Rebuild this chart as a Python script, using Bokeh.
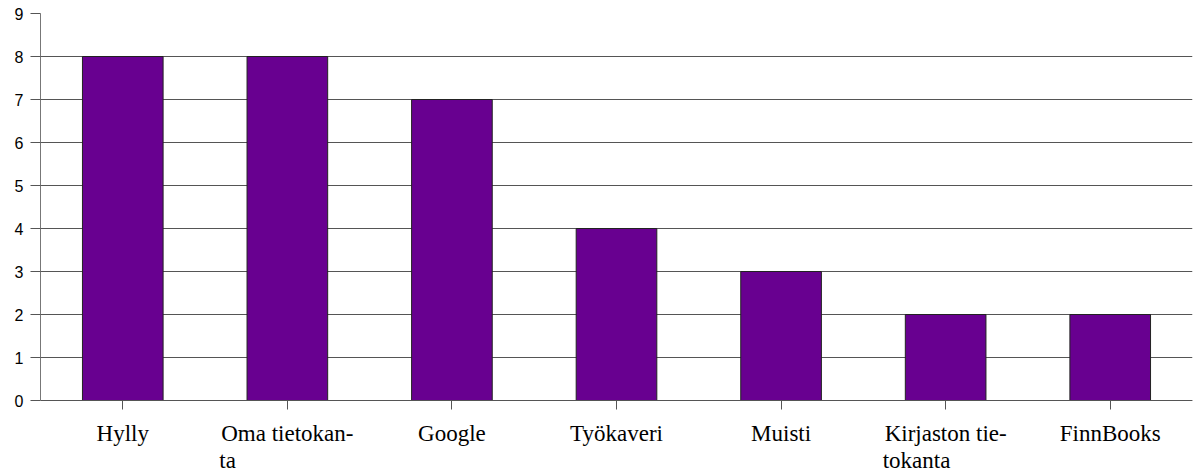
from bokeh.plotting import figure
from bokeh.models import FactorRange, Range1d, FixedTicker, ColumnDataSource, CustomJSTickFormatter
from bokeh.core.properties import value
from bokeh.embed import file_html
from bokeh.resources import INLINE

categories = ["Hylly", "Oma tietokanta", "Google", "Työkaveri", "Muisti",
              "Kirjaston tietokanta", "FinnBooks"]
label_lines = [["Hylly"], ["Oma tietokan-", "ta"], ["Google"], ["Työkaveri"], ["Muisti"],
               ["Kirjaston tie-", "tokanta"], ["FinnBooks"]]
values = [8, 8, 7, 4, 3, 2, 2]
y_ticks = [0, 1, 2, 3, 4, 5, 6, 7, 8, 9]

SERIF = "Liberation Serif"
SANS = "Liberation Sans"

PX_PER_UNIT = 43.0
FRAME_TOP = 13
FRAME_H = 471 - FRAME_TOP
y_max = 9
y_min = y_max - FRAME_H / PX_PER_UNIT  # leaves room under 0 for the category labels

p = figure(width=1198, height=471, output_backend="svg", toolbar_location=None,
           x_range=FactorRange(*categories, range_padding=0), y_range=Range1d(y_min, y_max),
           min_border_left=40, min_border_right=6, min_border_top=FRAME_TOP, min_border_bottom=0)
p.outline_line_color = None
p.background_fill_color = "white"
p.border_fill_color = "white"

p.vbar(x=categories, top=values, bottom=0, width=0.49, fill_color="#680090",
       line_color="#222222", line_width=1)

p.xgrid.visible = False
p.ygrid.grid_line_color = "#555555"
p.ygrid.grid_line_width = 1
p.yaxis.ticker = FixedTicker(ticks=y_ticks)
p.yaxis.bounds = (0, 9)
p.yaxis.minor_tick_line_color = None
p.yaxis.major_tick_out = 10
p.yaxis.major_tick_in = 0
p.yaxis.axis_line_color = "#777777"
p.yaxis.major_tick_line_color = "#555555"
p.yaxis.major_label_text_font = SANS
p.yaxis.major_label_text_font_size = "16px"
p.yaxis.major_label_text_color = "black"
p.yaxis.major_label_standoff = 7

# category axis drawn at y = 0 inside the frame; ticks point downwards
p.xaxis.fixed_location = 0
p.xaxis.major_tick_out = 0
p.xaxis.major_tick_in = -9
p.xaxis.axis_line_color = "#555555"
p.xaxis.major_tick_line_color = "#555555"
p.xaxis.formatter = CustomJSTickFormatter(code="return ''")
p.xaxis.major_label_standoff = 0

# category labels: first line centred on the factor, later lines left-aligned with the first
half_widths = [0, 68, 0, 0, 0, 63, 0]
line_offsets = [33, 60]
lx, ltxt, lalign, lxo, lyo = [], [], [], [], []
for cat, lines, hw in zip(categories, label_lines, half_widths):
    for k, txt in enumerate(lines):
        lx.append(cat)
        ltxt.append(txt)
        lalign.append("center" if k == 0 else "left")
        lxo.append(0 if k == 0 else -hw)
        lyo.append(line_offsets[k])
src = ColumnDataSource(dict(x=lx, text=ltxt, align=lalign, xo=lxo, yo=lyo, y=[0] * len(lx)))
p.text(x="x", y="y", text="text", source=src, text_align="align", x_offset="xo", y_offset="yo",
       text_baseline="alphabetic", text_font=value(SERIF), text_font_size="23px",
       text_color="black")

open("out.html", "w").write(file_html(p, INLINE))
